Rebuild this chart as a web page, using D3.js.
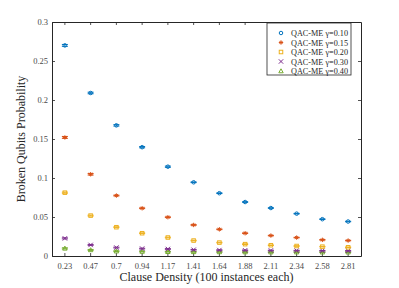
<!DOCTYPE html>
<html>
<head>
<meta charset="utf-8">
<script src="https://cdn.jsdelivr.net/npm/d3@7"></script>
<style>
  body { margin: 0; background: #fff; }
  text { font-family: "Liberation Serif", "Times New Roman", serif; }
</style>
</head>
<body>
<div id="wrapper"></div>
<script>
// clause densities (x categories)
const densities = ["0.23", "0.47", "0.7", "0.94", "1.17", "1.41", "1.64", "1.88", "2.11", "2.34", "2.58", "2.81"]
const yTicks = [0, 0.05, 0.1, 0.15, 0.2, 0.25, 0.3]

// one array per gamma
const gamma010 = [0.270, 0.209, 0.1675, 0.1395, 0.1145, 0.0945, 0.0805, 0.0692, 0.0615, 0.0543, 0.0472, 0.0442]
const gamma015 = [0.152, 0.1048, 0.0775, 0.0612, 0.0497, 0.0398, 0.0342, 0.0292, 0.0262, 0.0236, 0.0207, 0.0198]
const gamma020 = [0.0812, 0.0518, 0.0369, 0.0292, 0.0237, 0.0198, 0.0172, 0.0152, 0.0138, 0.0128, 0.0120, 0.0112]
const gamma030 = [0.0226, 0.0142, 0.0108, 0.0095, 0.0090, 0.0080, 0.0076, 0.0073, 0.0071, 0.0069, 0.0067, 0.0066]
const gamma040 = [0.0098, 0.0078, 0.0062, 0.0058, 0.0055, 0.0053, 0.0052, 0.0051, 0.0050, 0.0050, 0.0049, 0.0049]
const errors = [0.0012, 0.0010, 0.0009, 0.0008, 0.0008, 0.0007, 0.0007, 0.0007, 0.0006, 0.0006, 0.0006, 0.0006]

const seriesNames = ["QAC-ME \u03b3=0.10", "QAC-ME \u03b3=0.15", "QAC-ME \u03b3=0.20", "QAC-ME \u03b3=0.30", "QAC-ME \u03b3=0.40"]
const seriesValues = [gamma010, gamma015, gamma020, gamma030, gamma040]
const colors = ["#0072BD", "#D95319", "#EDB120", "#7E2F8E", "#77AC30"]
const shapes = ["circle", "star", "square", "cross", "triangle"]

const W = 399, H = 288
const margin = {top: 22, right: 38, bottom: 32, left: 52}
const width = W - margin.left - margin.right
const height = H - margin.top - margin.bottom

const svg = d3.select("#wrapper")
    .append("svg")
    .attr("width", W)
    .attr("height", H)
    .append("g")
    .attr("transform", `translate(${margin.left},${margin.top})`)

const x = d3.scaleBand()
    .domain(densities)
    .range([0, width])
    .padding(0)
const y = d3.scaleLinear()
    .domain([0, 0.3])
    .range([height, 0])

const axisColor = "#262626"
const labelColor = "#4a4a4a"
const tickLen = 3

// axes with inward ticks
const xAxis = svg.append("g")
    .attr("transform", `translate(0,${height})`)
    .call(d3.axisBottom(x).tickSizeInner(-tickLen).tickSizeOuter(0).tickPadding(7))
const xTop = svg.append("g")
    .call(d3.axisTop(x).tickSizeInner(-tickLen).tickSizeOuter(0).tickFormat(""))
const yAxis = svg.append("g")
    .call(d3.axisLeft(y).tickValues(yTicks).tickFormat(d3.format("~g")).tickSizeInner(-tickLen).tickSizeOuter(0).tickPadding(4))
const yRight = svg.append("g")
    .attr("transform", `translate(${width},0)`)
    .call(d3.axisRight(y).tickValues(yTicks).tickSizeInner(-tickLen).tickSizeOuter(0).tickFormat(""))

svg.selectAll(".domain").attr("stroke", axisColor).attr("stroke-width", 1)
svg.selectAll(".tick line").attr("stroke", axisColor).attr("stroke-width", 0.8)
svg.selectAll(".tick text")
    .attr("fill", labelColor)
    .style("font-family", "'Liberation Serif', serif")
    .style("font-size", "8.5px")

// marker drawing
function drawMarker(g, shape, color, s) {
    if (shape == "circle") {
        g.append("circle").attr("r", s * 0.8).attr("fill", "none").attr("stroke", color).attr("stroke-width", 1)
    } else if (shape == "square") {
        g.append("rect").attr("x", -s * 0.8).attr("y", -s * 0.8).attr("width", s * 1.6).attr("height", s * 1.6)
            .attr("fill", "none").attr("stroke", color).attr("stroke-width", 1)
    } else if (shape == "cross") {
        g.append("path").attr("d", `M${-s},${-s}L${s},${s}M${-s},${s}L${s},${-s}`).attr("stroke", color).attr("stroke-width", 1)
    } else if (shape == "star") {
        g.append("path").attr("d", `M${-s},0L${s},0M0,${-s}L0,${s}M${-s*0.7},${-s*0.7}L${s*0.7},${s*0.7}M${-s*0.7},${s*0.7}L${s*0.7},${-s*0.7}`)
            .attr("stroke", color).attr("stroke-width", 1)
    } else if (shape == "triangle") {
        g.append("path").attr("d", `M0,${-s}L${s},${s*0.8}L${-s},${s*0.8}Z`).attr("fill", "none").attr("stroke", color).attr("stroke-width", 1)
    }
}

// data points with error bars (draw last series first so blue is on top)
for (let k = seriesValues.length - 1; k >= 0; k--) {
    const vals = seriesValues[k]
    const grp = svg.append("g")
    vals.forEach(function(v, i) {
        const cx = x(densities[i]) + x.bandwidth() / 2
        const e = errors[i] * (v / 0.1 > 1 ? 1 : 0.6)
        const y1 = y(v + e), y2 = y(v - e)
        const cap = 3
        grp.append("path")
            .attr("d", `M${cx},${y1}L${cx},${y2}M${cx-cap},${y1}L${cx+cap},${y1}M${cx-cap},${y2}L${cx+cap},${y2}`)
            .attr("stroke", colors[k]).attr("stroke-width", 1).attr("fill", "none")
        const m = grp.append("g").attr("transform", `translate(${cx},${y(v)})`)
        drawMarker(m, shapes[k], colors[k], 2.2)
    })
}

// legend
const legend = svg.append("g").attr("transform", `translate(${267 - margin.left},${23 - margin.top})`)
legend.append("rect")
    .attr("width", 84).attr("height", 52)
    .attr("fill", "#fff").attr("stroke", axisColor).attr("stroke-width", 0.8)
seriesNames.forEach(function(name, k) {
    const row = legend.append("g").attr("transform", `translate(14,${10 + k * 9.5})`)
    drawMarker(row, shapes[k], colors[k], 2.2)
    row.append("text")
        .attr("x", 10).attr("y", 3.2)
        .attr("fill", axisColor)
        .attr("textLength", 57)
        .attr("lengthAdjust", "spacingAndGlyphs")
        .style("font-size", "9px")
        .text(name)
})

// axis labels
svg.append("text")
    .attr("x", width / 2)
    .attr("y", height + 25)
    .attr("text-anchor", "middle")
    .attr("fill", axisColor)
    .style("font-size", "12px")
    .text("Clause Density (100 instances each)")
svg.append("text")
    .attr("transform", `translate(${-27},${height / 2}) rotate(-90)`)
    .attr("text-anchor", "middle")
    .attr("fill", axisColor)
    .style("font-size", "12px")
    .text("Broken Qubits Probability")
</script>
</body>
</html>
